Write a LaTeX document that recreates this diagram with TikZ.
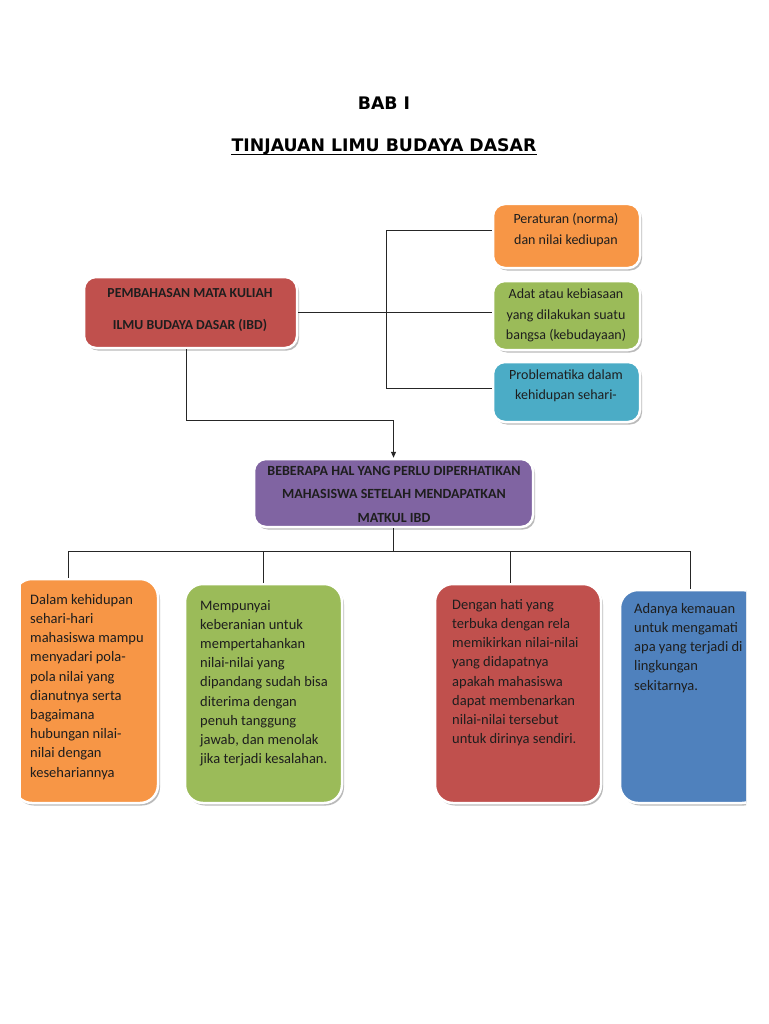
\documentclass[tikz,border=0pt]{standalone}
\usepackage{fontspec}
\setmainfont{Carlito}
\newfontfamily\titlefont{DejaVu Sans}
\usetikzlibrary{shadows,arrows.meta,calc}
\definecolor{ofOrange}{HTML}{F79646}
\definecolor{ofGreen}{HTML}{9BBB59}
\definecolor{ofRed}{HTML}{C0504D}
\definecolor{ofTeal}{HTML}{4BACC6}
\definecolor{ofPurple}{HTML}{8064A2}
\definecolor{ofBlue}{HTML}{4F81BD}
\definecolor{txtc}{HTML}{1E1E1E}
\begin{document}
\begin{tikzpicture}[x=1pt,y=-1pt,
  box/.style={draw=white, line width=2.5pt, rounded corners=12pt, fill=#1,
    drop shadow={shadow xshift=2pt,shadow yshift=-2.5pt,opacity=0.45,fill=black!60},
    inner sep=0pt},
  tall/.style={box=#1, rounded corners=18pt},
  conn/.style={draw=black!85, line width=0.9pt},
  btxt/.style={inner sep=0pt, text=txtc, font=\fontsize{14.5}{19.2}\selectfont, align=left, anchor=north west},
  ctxt/.style={inner sep=0pt, text=txtc, font=\fontsize{14}{20.5}\selectfont, align=center},
  hdtxt/.style={inner sep=0pt, text=txtc, font=\bfseries\fontsize{14}{23.5}\selectfont, align=center},
  ttl/.style={inner sep=0pt, text=black, font=\titlefont\bfseries\fontsize{17.3}{20}\selectfont, anchor=base},
]
\useasboundingbox (0,0) rectangle (768,1024);
\fill[white] (0,0) rectangle (768,1024);

% title
\node[ttl] (bab) at (384,110) {BAB I};
\node[ttl] (judul) at (384,151.5) {TINJAUAN LIMU BUDAYA DASAR};
\draw[line width=1.3pt] ($(judul.base west)+(0,3)$) -- ($(judul.base east)+(0,3)$);

\begin{scope}
\clip (21,0) rectangle (746,1024);
% top boxes
\node[box=ofRed, minimum width=213pt, minimum height=71pt] (topred) at (190.5,312.5) {};
\node[hdtxt, font=\bfseries\fontsize{13.75}{32}\selectfont] (t1) at (190,310) {PEMBAHASAN MATA KULIAH\\ILMU BUDAYA DASAR (IBD)};

\node[box=ofOrange, minimum width=147pt, minimum height=64pt] (orangetop) at (566.5,236) {};
\node[ctxt] (t2) at (566,230) {Peraturan (norma)\\dan nilai kediupan};

\node[box=ofGreen, minimum width=147pt, minimum height=69pt] (greentop) at (566.5,315.5) {};
\node[ctxt] (t3) at (566,315.5) {Adat atau kebiasaan\\yang dilakukan suatu\\bangsa (kebudayaan)};

\node[box=ofTeal, minimum width=147pt, minimum height=60pt] (tealtop) at (566.5,392) {};
\node[ctxt] (t4) at (566,386) {Problematika dalam\\kehidupan sehari-};

% middle box
\node[box=ofPurple, minimum width=279pt, minimum height=68pt] (purple) at (393.5,493) {};
\node[hdtxt] (t5) at (394,494) {BEBERAPA HAL YANG PERLU DIPERHATIKAN\\MAHASISWA SETELAH MENDAPATKAN\\MATKUL IBD};

% bottom boxes
\node[tall=ofOrange, minimum width=144pt, minimum height=224pt] (orangebot) at (86,691) {};
\node[btxt] (t6) at (30,594) {Dalam kehidupan\\sehari-hari\\mahasiswa mampu\\menyadari pola-\\pola nilai yang\\dianutnya serta\\bagaimana\\hubungan nilai-\\nilai dengan\\kesehariannya};

\node[tall=ofGreen, minimum width=157pt, minimum height=219pt] (greenbot) at (263.5,693.5) {};
\node[btxt] (t7) at (200,600) {Mempunyai\\keberanian untuk\\mempertahankan\\nilai-nilai yang\\dipandang sudah bisa\\diterima dengan\\penuh tanggung\\jawab, dan menolak\\jika terjadi kesalahan.};

\node[tall=ofRed, minimum width=166pt, minimum height=219pt] (redbot) at (518,693.5) {};
\node[btxt] (t8) at (452,599) {Dengan hati yang\\terbuka dengan rela\\memikirkan nilai-nilai\\yang didapatnya\\apakah mahasiswa\\dapat membenarkan\\nilai-nilai tersebut\\untuk dirinya sendiri.};

\node[tall=ofBlue, minimum width=140pt, minimum height=213pt] (bluebot) at (690,696.5) {};
\node[btxt] (t9) at (634,603) {Adanya kemauan\\untuk mengamati\\apa yang terjadi di\\lingkungan\\sekitarnya.};

% connectors top
\coordinate (ja) at (386,230);
\coordinate (jc) at (386,388);
\draw[conn] (topred.east) -- (topred.east -| greentop.west);
\draw[conn] (ja -| orangetop.west) -- (ja) -- (jc) -- (jc -| tealtop.west);

\coordinate (jd) at (186,420);
\draw[conn, -{Triangle[length=6pt,width=5pt]}] (topred.south -| jd) -- (jd) -| (purple.north);

% connectors bottom
\coordinate (ba) at (68,551);
\coordinate (bc) at (510,551);
\coordinate (bd) at (690,551);
\draw[conn] (purple.south) -- (purple.south |- ba);
\draw[conn] (ba) -- (bd);
\draw[conn] (ba) -- (ba |- orangebot.north);
\draw[conn] (greenbot.north |- ba) -- (greenbot.north);
\draw[conn] (bc) -- (bc |- redbot.north);
\draw[conn] (bd) -- (bd |- bluebot.north);
\end{scope}
\end{tikzpicture}
\end{document}
